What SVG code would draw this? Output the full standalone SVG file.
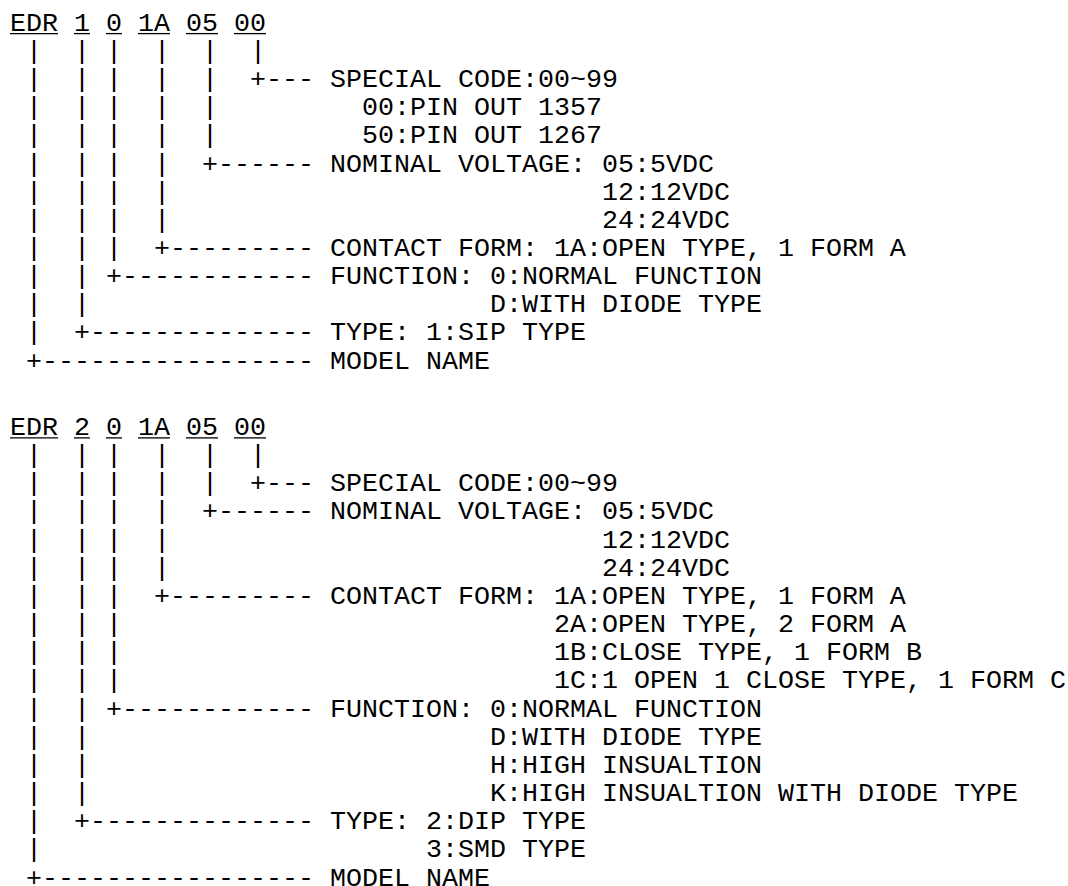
<svg xmlns="http://www.w3.org/2000/svg" width="1068" height="886" viewBox="0 0 1068 886">
<style>
text{font-family:"Courier New","Liberation Mono",monospace;font-size:26.67px;fill:#000;white-space:pre}
.u{stroke:#000;stroke-width:1.3}
</style>
<rect width="1068" height="886" fill="#fff"/>
<g id="code1">
<text x="10" y="30.7" xml:space="preserve">EDR 1 0 1A 05 00</text>
<line class="u" x1="10" y1="33.6" x2="58" y2="33.6"/>
<line class="u" x1="74" y1="33.6" x2="90" y2="33.6"/>
<line class="u" x1="106" y1="33.6" x2="122" y2="33.6"/>
<line class="u" x1="138" y1="33.6" x2="170" y2="33.6"/>
<line class="u" x1="186" y1="33.6" x2="218" y2="33.6"/>
<line class="u" x1="234" y1="33.6" x2="266" y2="33.6"/>
</g>
<g id="connectors1">
<text x="10" y="58.86" xml:space="preserve"> |  | |  |  |  |</text>
<text x="10" y="87.02" xml:space="preserve"> |  | |  |  |  +---</text>
<text x="10" y="115.18" xml:space="preserve"> |  | |  |  |</text>
<text x="10" y="143.34" xml:space="preserve"> |  | |  |  |</text>
<text x="10" y="171.5" xml:space="preserve"> |  | |  |  +------</text>
<text x="10" y="199.66" xml:space="preserve"> |  | |  |</text>
<text x="10" y="227.82" xml:space="preserve"> |  | |  |</text>
<text x="10" y="255.98" xml:space="preserve"> |  | |  +---------</text>
<text x="10" y="284.14" xml:space="preserve"> |  | +------------</text>
<text x="10" y="312.3" xml:space="preserve"> |  |</text>
<text x="10" y="340.46" xml:space="preserve"> |  +--------------</text>
<text x="10" y="368.62" xml:space="preserve"> +-----------------</text>
</g>
<g id="special1">
<text x="330" y="87.02">SPECIAL CODE:00~99</text>
<text x="362" y="115.18">00:PIN OUT 1357</text>
<text x="362" y="143.34">50:PIN OUT 1267</text>
</g>
<g id="voltage1">
<text x="330" y="171.5">NOMINAL VOLTAGE: 05:5VDC</text>
<text x="602" y="199.66">12:12VDC</text>
<text x="602" y="227.82">24:24VDC</text>
</g>
<g id="contact1">
<text x="330" y="255.98">CONTACT FORM: 1A:OPEN TYPE, 1 FORM A</text>
</g>
<g id="function1">
<text x="330" y="284.14">FUNCTION: 0:NORMAL FUNCTION</text>
<text x="490" y="312.3">D:WITH DIODE TYPE</text>
</g>
<g id="type1">
<text x="330" y="340.46">TYPE: 1:SIP TYPE</text>
</g>
<g id="model1">
<text x="330" y="368.62">MODEL NAME</text>
</g>
<g id="code2">
<text x="10" y="435" xml:space="preserve">EDR 2 0 1A 05 00</text>
<line class="u" x1="10" y1="437.9" x2="58" y2="437.9"/>
<line class="u" x1="74" y1="437.9" x2="90" y2="437.9"/>
<line class="u" x1="106" y1="437.9" x2="122" y2="437.9"/>
<line class="u" x1="138" y1="437.9" x2="170" y2="437.9"/>
<line class="u" x1="186" y1="437.9" x2="218" y2="437.9"/>
<line class="u" x1="234" y1="437.9" x2="266" y2="437.9"/>
</g>
<g id="connectors2">
<text x="10" y="463.16" xml:space="preserve"> |  | |  |  |  |</text>
<text x="10" y="491.32" xml:space="preserve"> |  | |  |  |  +---</text>
<text x="10" y="519.48" xml:space="preserve"> |  | |  |  +------</text>
<text x="10" y="547.64" xml:space="preserve"> |  | |  |</text>
<text x="10" y="575.8" xml:space="preserve"> |  | |  |</text>
<text x="10" y="603.96" xml:space="preserve"> |  | |  +---------</text>
<text x="10" y="632.12" xml:space="preserve"> |  | |</text>
<text x="10" y="660.28" xml:space="preserve"> |  | |</text>
<text x="10" y="688.44" xml:space="preserve"> |  | |</text>
<text x="10" y="716.6" xml:space="preserve"> |  | +------------</text>
<text x="10" y="744.76" xml:space="preserve"> |  |</text>
<text x="10" y="772.92" xml:space="preserve"> |  |</text>
<text x="10" y="801.08" xml:space="preserve"> |  |</text>
<text x="10" y="829.24" xml:space="preserve"> |  +--------------</text>
<text x="10" y="857.4" xml:space="preserve"> |</text>
<text x="10" y="885.56" xml:space="preserve"> +-----------------</text>
</g>
<g id="special2">
<text x="330" y="491.32">SPECIAL CODE:00~99</text>
</g>
<g id="voltage2">
<text x="330" y="519.48">NOMINAL VOLTAGE: 05:5VDC</text>
<text x="602" y="547.64">12:12VDC</text>
<text x="602" y="575.8">24:24VDC</text>
</g>
<g id="contact2">
<text x="330" y="603.96">CONTACT FORM: 1A:OPEN TYPE, 1 FORM A</text>
<text x="554" y="632.12">2A:OPEN TYPE, 2 FORM A</text>
<text x="554" y="660.28">1B:CLOSE TYPE, 1 FORM B</text>
<text x="554" y="688.44">1C:1 OPEN 1 CLOSE TYPE, 1 FORM C</text>
</g>
<g id="function2">
<text x="330" y="716.6">FUNCTION: 0:NORMAL FUNCTION</text>
<text x="490" y="744.76">D:WITH DIODE TYPE</text>
<text x="490" y="772.92">H:HIGH INSUALTION</text>
<text x="490" y="801.08">K:HIGH INSUALTION WITH DIODE TYPE</text>
</g>
<g id="type2">
<text x="330" y="829.24">TYPE: 2:DIP TYPE</text>
<text x="426" y="857.4">3:SMD TYPE</text>
</g>
<g id="model2">
<text x="330" y="885.56">MODEL NAME</text>
</g>
</svg>
